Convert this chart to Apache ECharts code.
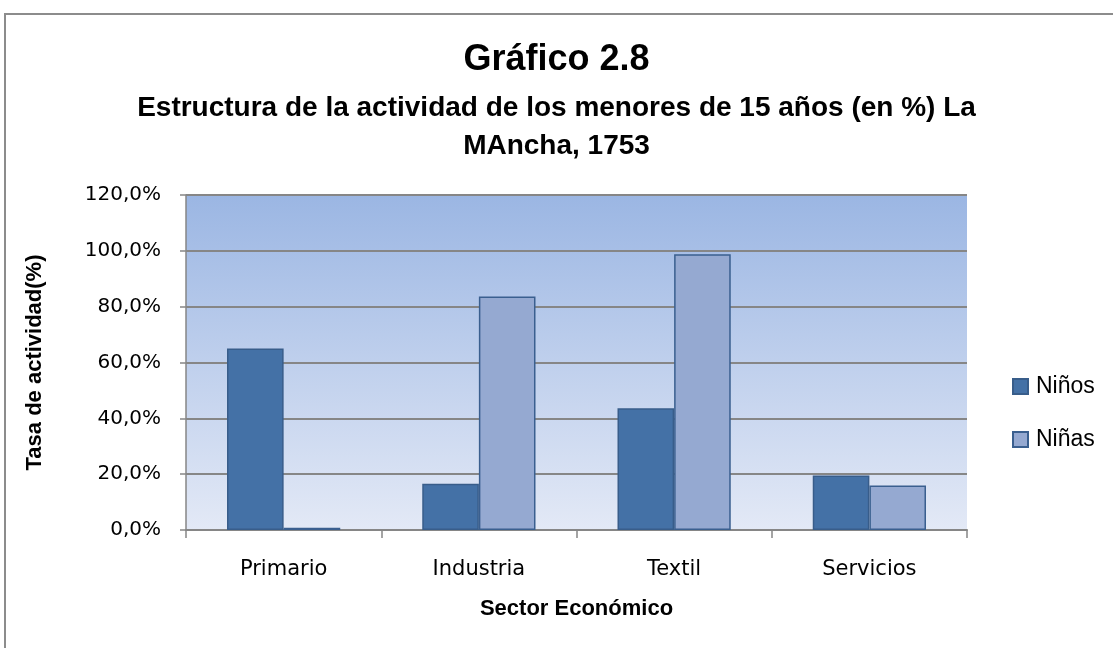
<!DOCTYPE html>
<html><head><meta charset="utf-8">
<script src="https://cdn.jsdelivr.net/npm/echarts@6/dist/echarts.min.js"></script>
<style>
html,body{margin:0;padding:0;background:#fff;}
#frame{position:absolute;left:4px;top:13px;width:1200px;height:700px;border:2px solid #8c8c8c;box-sizing:border-box;}
#chart{position:absolute;left:0;top:0;width:1113px;height:648px;}
</style></head>
<body>
<div id="frame"></div>
<div id="chart"></div>
<script>
const categories = ['Primario', 'Industria', 'Textil', 'Servicios'];
const ninos = [65.0, 16.6, 43.6, 19.5];
const ninas = [0.8, 83.6, 98.8, 15.9];
const seriesNames = ['Niños', 'Niñas'];
const yTicks = [0, 20, 40, 60, 80, 100, 120];
const titleLines = ['Gráfico 2.8', 'Estructura de la actividad de los menores de 15 años (en %) La', 'MAncha, 1753'];

const FONT = 'Liberation Sans';
const chart = echarts.init(document.getElementById('chart'));
chart.setOption({
  animation: false,
  title: [
    {text: titleLines[0], left: 'center', top: 37, textStyle: {fontFamily: FONT, fontWeight: 'bold', fontSize: 36, color: '#000'}},
    {text: titleLines[1], left: 'center', top: 89, textStyle: {fontFamily: FONT, fontWeight: 'bold', fontSize: 28, color: '#000'}},
    {text: titleLines[2], left: 'center', top: 127, textStyle: {fontFamily: FONT, fontWeight: 'bold', fontSize: 28, color: '#000'}}
  ],
  legend: {
    orient: 'vertical', left: 1007, top: 370, itemWidth: 15, itemHeight: 15, itemGap: 30,
    icon: 'rect',
    textStyle: {fontFamily: FONT, fontSize: 23, color: '#000', padding: [0, 0, 0, 3]},
    data: seriesNames
  },
  grid: {left: 186, right: 146, top: 195, bottom: 118, show: true, borderWidth: 0,
    backgroundColor: new echarts.graphic.LinearGradient(0, 0, 0, 1, [
      {offset: 0, color: '#9bb6e3'}, {offset: 1, color: '#e3e9f6'}])},
  xAxis: {
    type: 'category', data: categories,
    name: 'Sector Económico', nameLocation: 'middle', nameGap: 68,
    nameTextStyle: {fontFamily: FONT, fontWeight: 'bold', fontSize: 22, color: '#000'},
    axisLine: {lineStyle: {color: '#868686', width: 2}},
    axisTick: {show: true, length: 8, lineStyle: {color: '#868686', width: 1.5}},
    axisLabel: {fontFamily: 'DejaVu Sans', fontSize: 21, color: '#000', margin: 29}
  },
  yAxis: {
    type: 'value', min: 0, max: 120, interval: 20,
    name: 'Tasa de actividad(%)', nameLocation: 'middle', nameGap: 140,
    nameTextStyle: {fontFamily: FONT, fontWeight: 'bold', fontSize: 22, color: '#000'},
    axisLine: {show: true, lineStyle: {color: '#868686', width: 1.5}},
    axisTick: {show: true, length: 6, lineStyle: {color: '#868686', width: 1.5}},
    axisLabel: {fontFamily: 'DejaVu Sans', fontSize: 20, color: '#000', margin: 25,
      formatter: v => yTicks.includes(v) ? v.toFixed(1).replace('.', ',') + '%' : ''},
    splitLine: {lineStyle: {color: '#868686', width: 2}}
  },
  series: [
    {name: seriesNames[0], type: 'bar', data: ninos, barGap: '0%', barCategoryGap: '42%',
     itemStyle: {color: '#4471a6', borderColor: '#385d8a', borderWidth: 1.5}},
    {name: seriesNames[1], type: 'bar', data: ninas,
     itemStyle: {color: '#95a9d1', borderColor: '#3a5f8f', borderWidth: 1.5}}
  ]
});
</script>
</body></html>
